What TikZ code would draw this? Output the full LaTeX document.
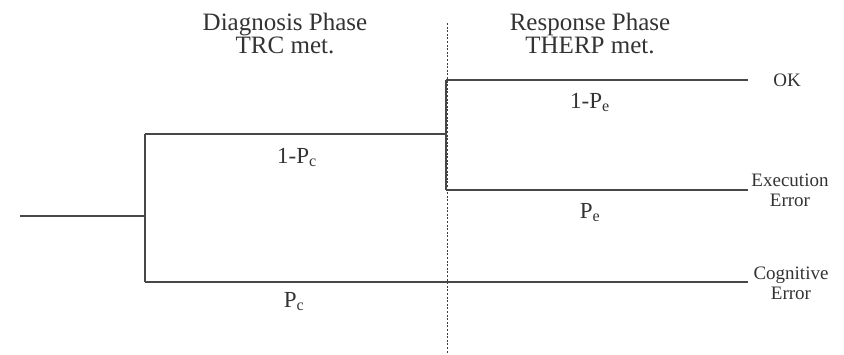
\documentclass[tikz,border=0pt]{standalone}
\usepackage{fontspec}
\setmainfont{Liberation Serif}
\begin{document}
\begin{tikzpicture}[x=1pt,y=-1pt,
  branch/.style={draw=black!72, line width=1.6pt},
  phaseline/.style={draw=black!75, line width=0.9pt, dash pattern=on 2pt off 1.6pt},
  heading/.style={text=black!80, align=center, inner sep=0pt, anchor=base,
    font=\fontsize{25}{23}\selectfont},
  prob/.style={text=black!80, inner sep=0pt, anchor=base,
    font=\fontsize{23}{24}\selectfont},
  outcome/.style={text=black!80, align=center, inner sep=0pt, anchor=base,
    font=\fontsize{19}{20}\selectfont}]
\useasboundingbox (0,0) rectangle (844,354);

% phase separator
\coordinate (sepTop) at (447,23);
\coordinate (sepBot) at (447,354);
\draw[phaseline] (sepTop) -- (sepBot);

% phase headings (anchored on the baseline of their last line)
\node[heading] (diag) at (285,53) {Diagnosis Phase\\TRC met.};
\node[heading] (resp) at (590,53) {Response Phase\\THERP met.};

% tree junctions and end points
\coordinate (root) at (20,216);
\coordinate (d) at (145,216);
\coordinate (dUp) at (145,134);
\coordinate (dLo) at (145,282);
\coordinate (r) at (446,134);
\coordinate (rUp) at (446,80);
\coordinate (rLo) at (446,190);
\coordinate (okEnd) at (748,80);
\coordinate (exEnd) at (748,190);
\coordinate (cgEnd) at (748,282);

% event tree branches
\draw[branch] (root) -- (d);
\draw[branch] (dUp) -- (dLo);
\draw[branch] (dUp) -- (r);
\draw[branch] (dLo) -- (cgEnd);
\draw[branch] (rUp) -- (rLo);
\draw[branch] (rUp) -- (okEnd);
\draw[branch] (rLo) -- (exEnd);

% branch probabilities
\node[prob] (p1) at (297,163) {1-P\textsubscript{c}};
\node[prob] (p2) at (294,307) {P\textsubscript{c}};
\node[prob] (p3) at (590,108) {1-P\textsubscript{e}};
\node[prob] (p4) at (590,218) {P\textsubscript{e}};

% outcomes
\node[outcome] (ok) at (787,86) {OK};
\node[outcome] (ex) at (790,206) {Execution\\Error};
\node[outcome] (cg) at (791,299) {Cognitive\\Error};
\end{tikzpicture}
\end{document}
